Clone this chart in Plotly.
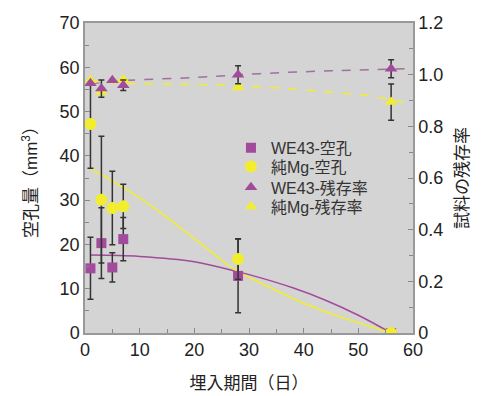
import plotly.graph_objects as go

days = [1, 3, 5, 7, 28, 56]

we43_void = [14.6, 20.3, 14.8, 21.2, 12.9, 0.0]
we43_void_err = [7.0, 8.0, 3.3, 4.9, 8.3, 0.0]
mg_void = [47.2, 30.1, 28.2, 28.6, 16.7, 0.0]
mg_void_err = [10.0, 14.3, 8.3, 5.0, 4.6, 0.0]

we43_res = [0.967, 0.946, 0.978, 0.959, 1.0, 1.023]
we43_res_err = [0.0, 0.033, 0.0, 0.02, 0.035, 0.035]
mg_res = [0.978, 0.933, 0.978, 0.981, 0.95, 0.894]
mg_res_err = [0.0, 0.0, 0.0, 0.0, 0.0, 0.07]

# trend curves
we43_void_trend_x = [1, 10, 20, 28, 32, 38, 44, 50, 56]
we43_void_trend_y = [17.6, 17.3, 16.1, 13.8, 12.5, 10.2, 7.4, 4.0, 0.0]
mg_void_trend_x = [1, 5, 10, 14, 20, 28, 32, 38, 44, 50, 56]
mg_void_trend_y = [37.1, 34.3, 30.5, 27.0, 21.3, 13.8, 11.4, 7.8, 4.8, 2.3, 0.0]
we43_res_trend_x = [1, 8, 20, 32, 45, 60]
we43_res_trend_y = [0.966, 0.978, 0.989, 1.004, 1.015, 1.024]
mg_res_trend_x = [1, 8, 20, 28, 36, 45, 52, 56, 60]
mg_res_trend_y = [0.975, 0.966, 0.962, 0.958, 0.948, 0.932, 0.918, 0.903, 0.885]

x_ticks = [0, 10, 20, 30, 40, 50, 60]
y_ticks = [0, 10, 20, 30, 40, 50, 60, 70]
y2_ticks = [0, 0.2, 0.4, 0.6, 0.8, 1.0, 1.2]
y2_labels = ["0", "0.2", "0.4", "0.6", "0.8", "1.0", "1.2"]

names = ["WE43-空孔", "純Mg-空孔", "WE43-残存率", "純Mg-残存率"]

PURPLE = "#a24b9c"
YELLOW = "#f2ee2e"
ERR = "#333333"
FONT = "Liberation Sans, Noto Sans CJK JP, sans-serif"

fig = go.Figure()

fig.add_trace(go.Scatter(x=we43_void_trend_x, y=we43_void_trend_y, mode="lines", line_shape="spline",
                         line=dict(color=PURPLE, width=1.5), showlegend=False, hoverinfo="skip"))
fig.add_trace(go.Scatter(x=mg_void_trend_x, y=mg_void_trend_y, mode="lines", line_shape="spline",
                         line=dict(color=YELLOW, width=1.5), showlegend=False, hoverinfo="skip"))
fig.add_trace(go.Scatter(x=we43_res_trend_x, y=we43_res_trend_y, mode="lines", yaxis="y2", line_shape="spline",
                         line=dict(color="#a0709c", width=1.5, dash="dash"), showlegend=False, hoverinfo="skip"))
fig.add_trace(go.Scatter(x=mg_res_trend_x, y=mg_res_trend_y, mode="lines", yaxis="y2", line_shape="spline",
                         line=dict(color=YELLOW, width=1.5, dash="dash"), showlegend=False, hoverinfo="skip"))

def eb(arr):
    return dict(type="data", array=arr, visible=True, color=ERR, thickness=1.5, width=3)

fig.add_trace(go.Scatter(x=days, y=mg_res, mode="markers", name=names[3], yaxis="y2", legend="legend4",
                         marker=dict(symbol="triangle-up", size=11, color=YELLOW),
                         error_y=eb(mg_res_err)))
fig.add_trace(go.Scatter(x=days, y=we43_res, mode="markers", name=names[2], yaxis="y2", legend="legend3",
                         marker=dict(symbol="triangle-up", size=11, color=PURPLE),
                         error_y=eb(we43_res_err)))
fig.add_trace(go.Scatter(x=days, y=we43_void, mode="markers", name=names[0], legend="legend",
                         marker=dict(symbol="square", size=10, color=PURPLE),
                         error_y=eb(we43_void_err)))
fig.add_trace(go.Scatter(x=days, y=mg_void, mode="markers", name=names[1], legend="legend2",
                         marker=dict(symbol="circle", size=12, color=YELLOW),
                         error_y=eb(mg_void_err)))

axis_common = dict(showline=True, linecolor="#999999", linewidth=1.5, automargin=False,
                   ticks="inside", ticklen=5, tickcolor="#888888", showgrid=False,
                   zeroline=False, tickfont=dict(size=18, color="#222222", family=FONT))

def leg(y):
    return dict(x=0.445, y=y, xanchor="left", yanchor="top", bgcolor="rgba(0,0,0,0)",
                font=dict(size=16, color="#333333", family=FONT))

fig.update_layout(
    width=483, height=396,
    margin=dict(l=85, r=70, t=23, b=63),
    paper_bgcolor="white", plot_bgcolor="#d4d4d4",
    font=dict(family=FONT, color="#222222"),
    xaxis=dict(range=[0, 60], tickvals=x_ticks, mirror=True,
               minor=dict(dtick=5, ticks="inside", ticklen=4, tickcolor="#888888"),
               title=dict(text="埋入期間（日）", font=dict(size=17), standoff=18),
               **axis_common),
    yaxis=dict(range=[0, 70], tickvals=y_ticks,
               minor=dict(dtick=5, ticks="inside", ticklen=4, tickcolor="#888888"),
               title=dict(text="空孔量（mm<sup>3</sup>）", font=dict(size=17), standoff=18),
               **axis_common),
    yaxis2=dict(range=[0, 1.2], tickvals=y2_ticks, ticktext=y2_labels, overlaying="y", side="right",
                minor=dict(dtick=0.1, ticks="inside", ticklen=4, tickcolor="#888888"),
                title=dict(text="試料の残存率", font=dict(size=17), standoff=14),
                **axis_common),
    legend=leg(0.6525),
    legend2=leg(0.5915),
    legend3=leg(0.5245),
    legend4=leg(0.4625),
    showlegend=True,
)

fig.write_html("out.html", config={"displayModeBar": False},
               post_script="document.body.style.margin='0';document.body.style.overflow='hidden';")
